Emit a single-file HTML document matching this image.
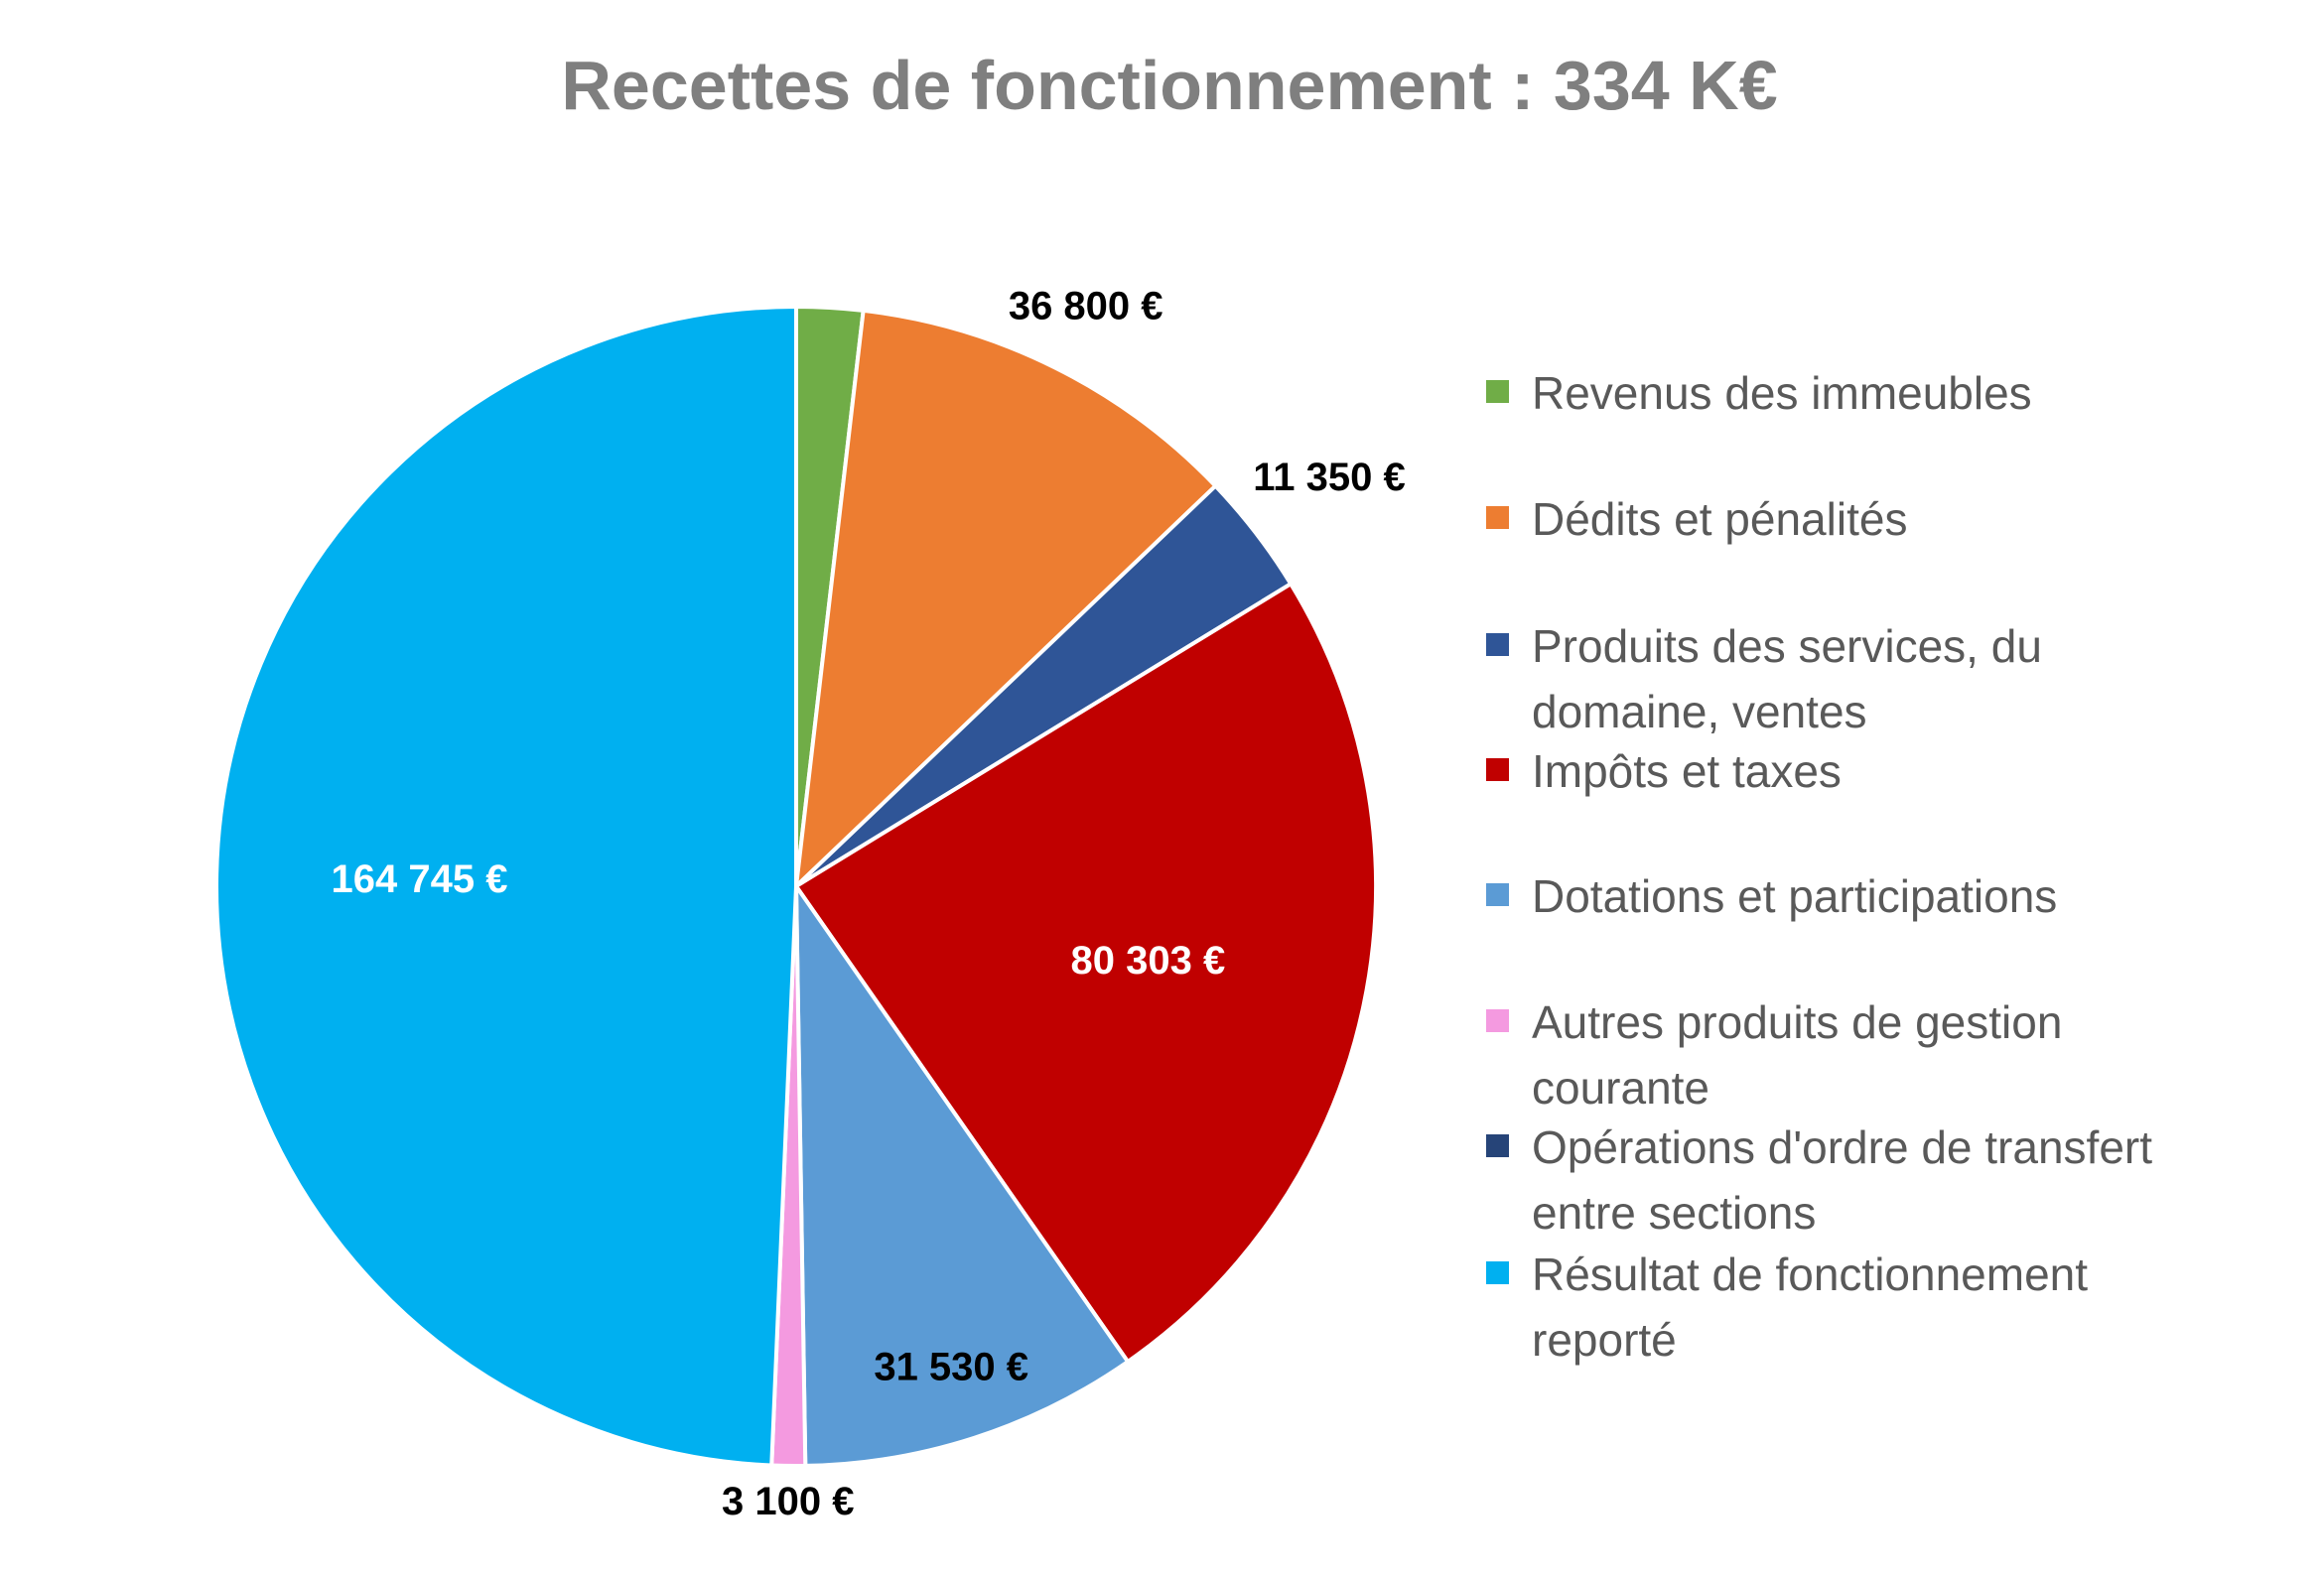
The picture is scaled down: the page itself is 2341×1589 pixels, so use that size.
<!DOCTYPE html>
<html><head><meta charset="utf-8"><style>
body{margin:0;background:#fff;width:2341px;height:1584px;overflow:hidden;font-family:"Liberation Sans",sans-serif}
</style></head><body>
<svg width="2341" height="1584" viewBox="0 0 2341 1584" xmlns="http://www.w3.org/2000/svg">
<rect width="2341" height="1584" fill="#fff"/>
<text x="1178" y="110" text-anchor="middle" font-size="70" font-weight="bold" fill="#7f7f7f">Recettes de fonctionnement  : 334 K€</text>
<g id="slices"></g><g id="labels"></g><g id="legend"></g>
</svg>
<script>
const categories=["Revenus des immeubles","Dédits et pénalités","Produits des services, du domaine, ventes","Impôts et taxes","Dotations et participations","Autres produits de gestion courante","Opérations d'ordre de transfert entre sections","Résultat de fonctionnement reporté"];
const values=[6172,36800,11350,80303,31530,3100,0,164745];
const valueLabels=["","36 800 €","11 350 €","80 303 €","31 530 €","3 100 €","","164 745 €"];
const colors=["#70ad47","#ed7d31","#2f5597","#c00000","#5b9bd5","#f49ae0","#264478","#00b0f0"];
const labelColors=["#000","#000","#000","#fff","#000","#000","#000","#fff"];
const labelRadius=[0,1.12,1.16,0.62,0.87,1.06,0,0.65];
const legendLines=[["Revenus des immeubles"],["Dédits et pénalités"],["Produits des services, du","domaine, ventes"],["Impôts et taxes"],["Dotations et participations"],["Autres produits de gestion","courante"],["Opérations d'ordre de transfert","entre sections"],["Résultat de fonctionnement","reporté"]];
const NS="http://www.w3.org/2000/svg";
const cx=802,cy=893,R=584;
const total=values.reduce((a,b)=>a+b,0);
const sl=document.getElementById('slices'),lb=document.getElementById('labels'),lg=document.getElementById('legend');
function pt(a,r){return [cx+r*Math.sin(a),cy-r*Math.cos(a)];}
let a0=0;
values.forEach((v,i)=>{
  const a1=a0+v/total*2*Math.PI;
  if(v>0){
    const p0=pt(a0,R),p1=pt(a1,R),large=(a1-a0)>Math.PI?1:0;
    const p=document.createElementNS(NS,'path');
    p.setAttribute('d',`M${cx},${cy}L${p0[0]},${p0[1]}A${R},${R} 0 ${large} 1 ${p1[0]},${p1[1]}Z`);
    p.setAttribute('fill',colors[i]);p.setAttribute('stroke','#fff');p.setAttribute('stroke-width','4');
    
    
    sl.appendChild(p);
    if(valueLabels[i]){
      const m=(a0+a1)/2,q=pt(m,R*labelRadius[i]);
      const t=document.createElementNS(NS,'text');
      t.setAttribute('x',q[0]);t.setAttribute('y',q[1]+14);t.setAttribute('text-anchor','middle');
      t.setAttribute('font-size','40');t.setAttribute('font-weight','bold');t.setAttribute('fill',labelColors[i]);
      t.textContent=valueLabels[i];
      
      
      lb.appendChild(t);
    }
  }
  a0=a1;
});
const legendY=[395,522,650,776,902,1029,1155,1283];
legendLines.forEach((lines,i)=>{
  const g=document.createElementNS(NS,'g');
  
  
  const r=document.createElementNS(NS,'rect');
  r.setAttribute('x',1497);r.setAttribute('y',legendY[i]-12);r.setAttribute('width',23);r.setAttribute('height',23);r.setAttribute('fill',colors[i]);
  
  
  g.appendChild(r);
  lines.forEach((s,j)=>{
    const t=document.createElementNS(NS,'text');
    t.setAttribute('x',1543);t.setAttribute('y',legendY[i]+17+j*66);t.setAttribute('font-size','46');t.setAttribute('fill','#595959');
    t.textContent=s;
    
    
    g.appendChild(t);
  });
  lg.appendChild(g);
});
</script>
</body></html>
